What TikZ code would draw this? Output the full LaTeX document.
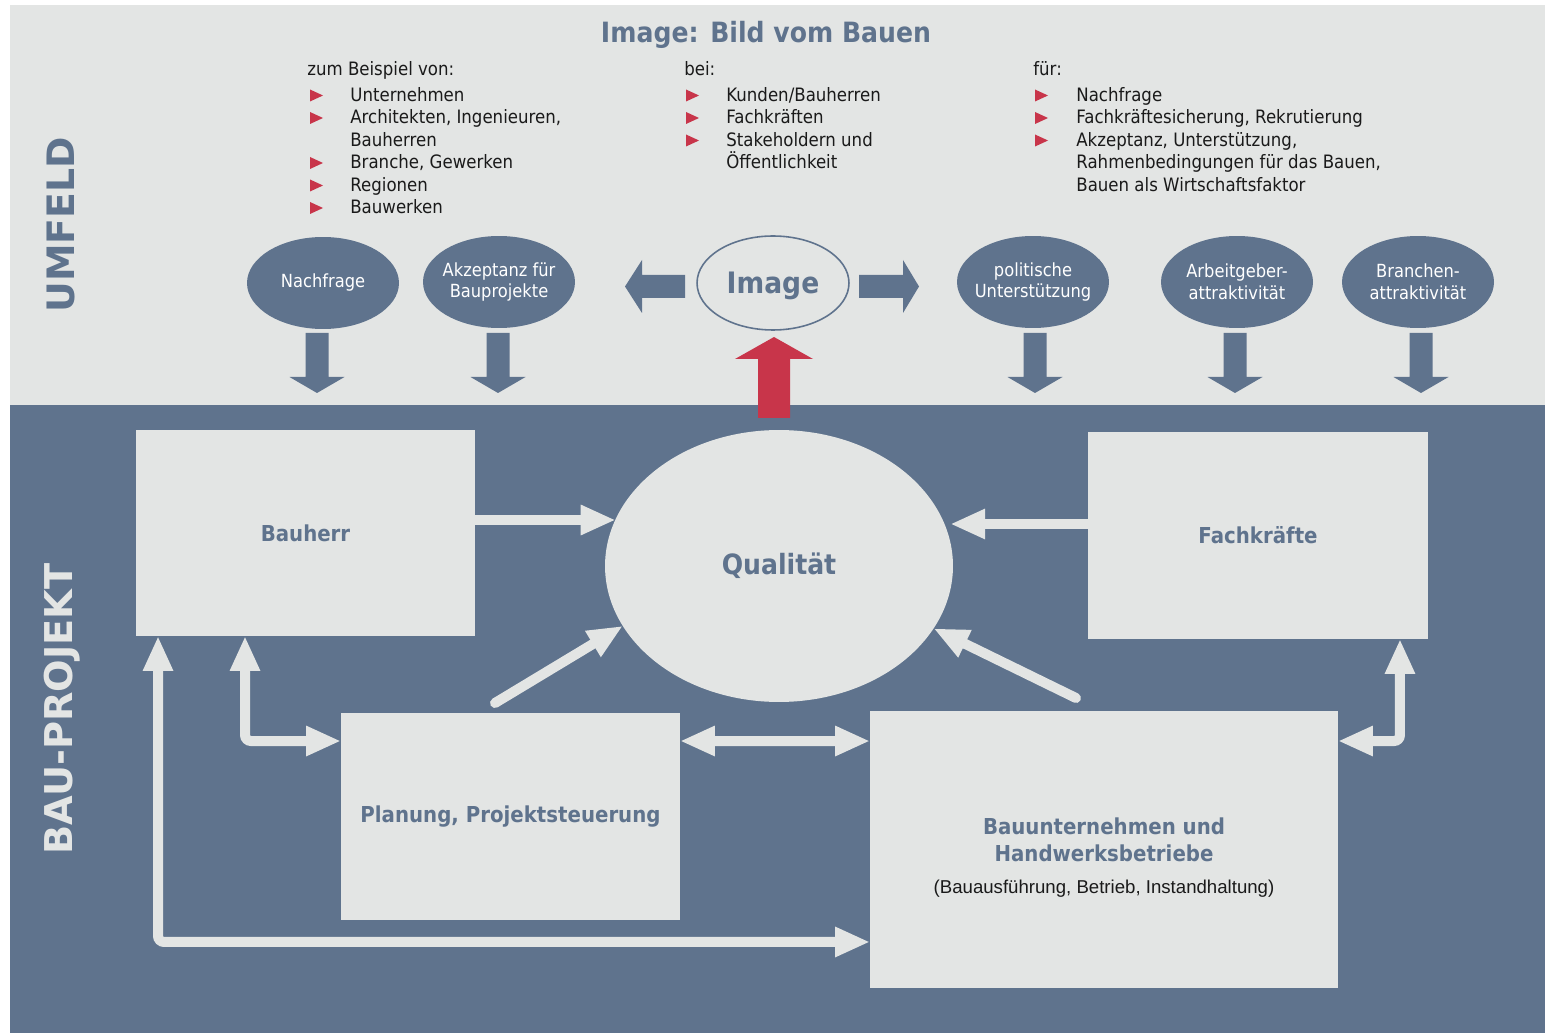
\documentclass[tikz,border=0pt]{standalone}
\usepackage{fontspec}
\setmainfont{DejaVu Sans}[FakeStretch=0.9]
\newfontfamily\arialf{Liberation Sans}
\newfontfamily\widef{DejaVu Sans}
\usetikzlibrary{arrows.meta,shapes.geometric}
\definecolor{bgrey}{HTML}{E3E5E4}
\definecolor{bblue}{HTML}{5F738D}
\definecolor{bred}{HTML}{C8354A}
\definecolor{btext}{HTML}{1A1A1A}
\newcommand\tline[4]{\node[txt,anchor=base west] (#1) at (#2,#3) {#4};}
\newcommand\tbul[2]{\fill[bred] (#1,#2-12) -- (#1+13,#2-6) -- (#1,#2) -- cycle;}
\newcommand\zb[1]{\makebox[0pt]{#1}}
\tikzset{tipA/.tip={Triangle[length=0.7cm,width=0.56cm]}}
\begin{document}
\begin{tikzpicture}[x=0.02cm,y=-0.02cm,
  txt/.style={inner sep=0pt, text=btext, font=\fontsize{10.5}{12.9}\selectfont},
  oval/.style={ellipse, fill=bblue, minimum width=3.04cm, minimum height=1.84cm, inner sep=0pt, outer sep=0pt, text=white, align=center, font=\fontsize{10.3}{12.5}\selectfont},
  box/.style={rectangle, fill=bgrey, inner sep=0pt, outer sep=0pt, text=bblue, align=center, font=\bfseries\fontsize{12.5}{15.3}\selectfont},
  conn/.style={draw=bgrey, line width=0.2cm, line cap=round, rounded corners=0.12cm, -tipA},
  conn2/.style={conn, tipA-tipA},
  blk/.style={fill=bblue}
]
\useasboundingbox (0,0) rectangle (1545,1033);
% backgrounds
\fill[white] (0,0) rectangle (1545,1033);
\fill[bgrey] (10,5) rectangle (1545,405);
\fill[bblue] (10,405) rectangle (1545,1033);

% title
\node[anchor=base, inner sep=0pt, text=bblue, font=\bfseries\fontsize{15.9}{18}\selectfont] (title) at (766,43) {Image: Bild vom Bauen};

% column 1
\tline{h1}{307}{76}{zum Beispiel von:}
\tline{l11}{350}{101.5}{Unternehmen}
\tline{l12}{350}{124}{Architekten, Ingenieuren,}
\tline{l13}{350}{146.5}{Bauherren}
\tline{l14}{350}{169}{Branche, Gewerken}
\tline{l15}{350}{191.5}{Regionen}
\tline{l16}{350}{214}{Bauwerken}
\tbul{310}{101.5}\tbul{310}{124}\tbul{310}{169}\tbul{310}{191.5}\tbul{310}{214}
% column 2
\tline{h2}{684}{76}{bei:}
\tline{l21}{726}{101.5}{Kunden/Bauherren}
\tline{l22}{726}{124}{Fachkräften}
\tline{l23}{726}{146.5}{Stakeholdern und}
\tline{l24}{726}{169}{Öffentlichkeit}
\tbul{686}{101.5}\tbul{686}{124}\tbul{686}{146.5}
% column 3
\tline{h3}{1033}{76}{für:}
\tline{l31}{1076}{101.5}{Nachfrage}
\tline{l32}{1076}{124}{Fachkräftesicherung, Rekrutierung}
\tline{l33}{1076}{146.5}{Akzeptanz, Unterstützung,}
\tline{l34}{1076}{169}{Rahmenbedingungen für das Bauen,}
\tline{l35}{1076}{191.5}{Bauen als Wirtschaftsfaktor}
\tbul{1035}{101.5}\tbul{1035}{124}\tbul{1035}{146.5}

% ellipses
\node[oval] (nach) at (323,283) {\zb{Nachfrage}};
\node[oval] (akz) at (499,282) {\zb{Akzeptanz für}\\\zb{Bauprojekte}};
\node[ellipse, draw=bblue, line width=0.9pt, minimum width=3.04cm, minimum height=1.88cm, inner sep=0pt, text depth=0pt, text=bblue, font=\bfseries\fontsize{16.8}{20}\selectfont] (img) at (773,283) {\zb{Image}};
\node[oval] (pol) at (1033,282) {\zb{politische}\\\zb{Unterstützung}};
\node[oval] (arb) at (1237,282) {\zb{Arbeitgeber-}\\\zb{attraktivität}};
\node[oval] (bra) at (1418,282) {\zb{Branchen-}\\\zb{attraktivität}};

% block arrows
\foreach \x in {317,498,1035,1235,1421}{
  \fill[blk] (\x-11.5,333) -- (\x+11.5,333) -- (\x+11.5,377) -- (\x+27.5,377) -- (\x,393) -- (\x-27.5,377) -- (\x-11.5,377) -- cycle;}
\fill[blk] (685,275) -- (642,275) -- (642,260) -- (625,286.5) -- (642,313) -- (642,298) -- (685,298) -- cycle;
\fill[blk] (859,275) -- (903,275) -- (903,260) -- (919,286.5) -- (903,313) -- (903,298) -- (859,298) -- cycle;
\fill[bred] (758,418) -- (758,359) -- (735,359) -- (774,337) -- (813,359) -- (790,359) -- (790,418) -- cycle;

% side labels
\node[rotate=90, inner sep=0pt, text=bblue, font=\widef\bfseries\fontsize{21.5}{24}\selectfont] (umf) at (61,225) {UMFELD};
\node[rotate=90, inner sep=0pt, text=bgrey, font=\widef\bfseries\fontsize{21.8}{24}\selectfont] (bp) at (62,709) {BAU-PROJEKT};

% boxes
\node[box, minimum width=6.78cm, minimum height=4.12cm] (bauherr) at (305.5,533) {Bauherr};
\node[box, minimum width=6.8cm, minimum height=4.14cm] (fach) at (1258,535.5) {Fachkräfte};
\node[box, minimum width=6.78cm, minimum height=4.14cm] (plan) at (510.5,816.5) {Planung, Projektsteuerung};
\node[box, minimum width=9.36cm, minimum height=5.54cm] (bau) at (1104,849.5) {};
\node[inner sep=0pt, text=bblue, align=center, font=\bfseries\fontsize{12.5}{15.3}\selectfont] (bautxt) at (1104,840) {Bauunternehmen und\\Handwerksbetriebe};
\node[inner sep=0pt, text=btext, font=\arialf\fontsize{10.6}{12}\selectfont] (bausub) at (1104,889) {(Bauausführung, Betrieb, Instandhaltung)};
\node[ellipse, fill=bgrey, minimum width=6.96cm, minimum height=5.44cm, inner sep=0pt, outer sep=0pt, text=bblue, font=\bfseries\fontsize{15.9}{18}\selectfont] (qual) at (779,566) {Qualität};

% connectors
\coordinate (b1) at ([yshift=0.26cm]bauherr.east);
\draw[conn] (b1) -- (b1 -| qual.164);
\coordinate (f1) at ([yshift=0.23cm]fach.west);
\draw[conn] (f1) -- (f1 -| qual.8);
\coordinate (p1) at ([shift={(-0.31cm,0.2cm)}]plan.north);
\draw[conn] (p1) -- (qual.201);
\coordinate (u1) at ([shift={(-0.56cm,0.26cm)}]bau.north);
\draw[conn] (u1) -- (qual.338);
\draw[conn2] ([xshift=-1.21cm]bauherr.south) |- ([yshift=1.51cm]plan.west);
\draw[conn2] ([yshift=1.51cm]plan.east) -- ([yshift=2.17cm]bau.west);
\draw[conn2] ([yshift=2.17cm]bau.east) -| ([xshift=2.84cm]fach.south);
\draw[conn2] ([xshift=-2.95cm]bauherr.south) |- ([yshift=-1.85cm]bau.west);
\end{tikzpicture}
\end{document}
